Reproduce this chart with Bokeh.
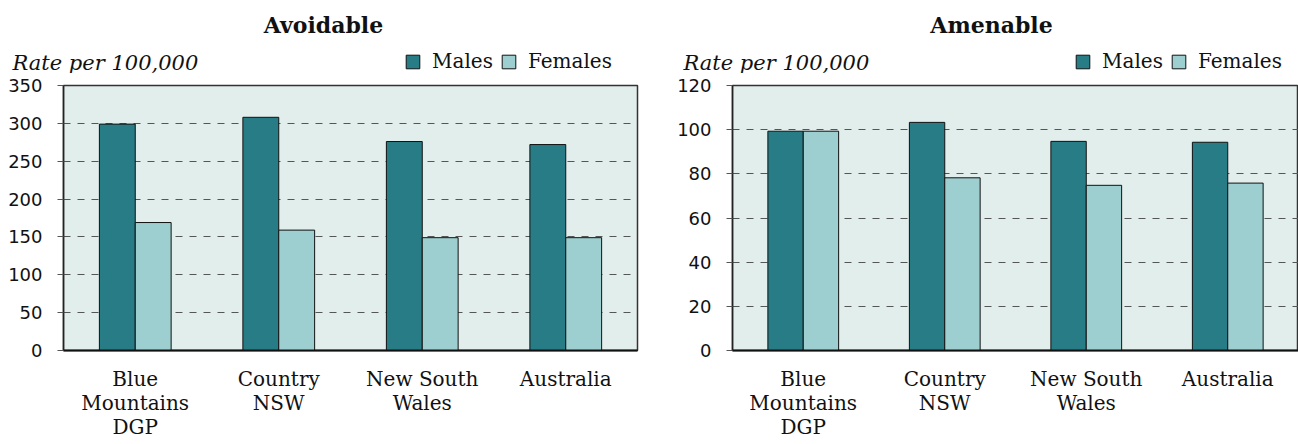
from bokeh.plotting import figure
from bokeh.models import (FactorRange, Range1d, Label, Legend, LegendItem,
                          ColumnDataSource, FixedTicker)
from bokeh.transform import dodge
from bokeh.layouts import row, column
from bokeh.embed import file_html
from bokeh.resources import INLINE

categories = ["Blue\nMountains\nDGP", "Country\nNSW", "New South\nWales", "Australia"]
avoidable_males = [299, 308, 276, 272]
avoidable_females = [169, 159, 149, 149]
amenable_males = [99.3, 103.3, 94.7, 94.3]
amenable_females = [99.3, 78.2, 74.8, 75.8]
avoidable_ticks = [0, 50, 100, 150, 200, 250, 300, 350]
amenable_ticks = [0, 20, 40, 60, 80, 100, 120]
titles = ["Avoidable", "Amenable"]
series_names = ["Males", "Females"]
y_label = "Rate per 100,000"

MALE = "#287c85"
FEMALE = "#9ecfd0"
BG = "#e2eeec"
LABEL_FONT = "DejaVu Serif"
TICK_FONT = "DejaVu Sans"
HEADER_H = 73


def make_header(title, width, title_x, rate_x, legend_x):
    h = figure(width=width, height=HEADER_H, x_range=Range1d(0, 1), y_range=Range1d(0, 1),
               x_axis_type=None, y_axis_type=None, output_backend="svg",
               toolbar_location=None, min_border=0, outline_line_color=None,
               background_fill_color="white", border_fill_color="white")
    proxy = ColumnDataSource(dict(x=[0], top=[0]))
    rm = h.vbar(x="x", top="top", width=0.1, source=proxy, fill_color=MALE,
                line_color="#111111", line_width=1, visible=False)
    rf = h.vbar(x="x", top="top", width=0.1, source=proxy, fill_color=FEMALE,
                line_color="#111111", line_width=1, visible=False)
    h.add_layout(Label(x=title_x, y=HEADER_H - 24, x_units="screen", y_units="screen",
                       text=title, text_align="center", text_baseline="middle",
                       text_font=LABEL_FONT, text_font_style="bold",
                       text_font_size="22px", text_color="#111111"))
    h.add_layout(Label(x=rate_x, y=HEADER_H - 62, x_units="screen", y_units="screen",
                       text=y_label, text_align="left", text_baseline="middle",
                       text_font=LABEL_FONT, text_font_style="italic",
                       text_font_size="21px", text_color="#111111"))
    leg = Legend(items=[LegendItem(label=series_names[0], renderers=[rm]),
                        LegendItem(label=series_names[1], renderers=[rf])],
                 orientation="horizontal", location=(legend_x, 0),
                 padding=0, margin=0, border_line_color=None,
                 background_fill_alpha=0, inactive_fill_alpha=0,
                 glyph_width=17, glyph_height=17,
                 label_standoff=11, spacing=7, label_height=20,
                 label_text_font=LABEL_FONT, label_text_font_size="20px",
                 label_text_color="#111111")
    h.add_layout(leg)
    return h


def make_chart(males, females, ticks, width, bl, br, bt):
    src = ColumnDataSource(dict(cat=categories, m=males, f=females))
    p = figure(x_range=FactorRange(factors=categories, range_padding=0),
               y_range=Range1d(0, ticks[-1]), width=width, height=444 - HEADER_H,
               output_backend="svg", toolbar_location=None,
               min_border_left=bl, min_border_right=br,
               min_border_top=bt, min_border_bottom=94,
               background_fill_color=BG, border_fill_color="white")
    p.vbar(x=dodge("cat", -0.125, range=p.x_range), top="m", width=0.25,
           source=src, fill_color=MALE, line_color="#111111", line_width=1)
    p.vbar(x=dodge("cat", 0.125, range=p.x_range), top="f", width=0.25,
           source=src, fill_color=FEMALE, line_color="#111111", line_width=1)

    p.xgrid.grid_line_color = None
    p.ygrid.grid_line_color = "#555555"
    p.ygrid.grid_line_dash = "7 7"
    p.ygrid.grid_line_width = 1
    p.outline_line_color = "#333333"
    p.outline_line_width = 1.5

    p.yaxis.ticker = FixedTicker(ticks=ticks)
    p.yaxis.minor_tick_line_color = None
    p.yaxis.major_tick_in = 0
    p.yaxis.major_tick_out = 6
    p.yaxis.major_tick_line_color = "#555555"
    p.yaxis.axis_line_color = "#222222"
    p.yaxis.axis_line_width = 1.5
    p.yaxis.major_label_text_font = TICK_FONT
    p.yaxis.major_label_text_font_size = "18px"
    p.yaxis.major_label_text_color = "#111111"
    p.yaxis.major_label_standoff = 15

    p.xaxis.major_tick_line_color = None
    p.xaxis.minor_tick_line_color = None
    p.xaxis.axis_line_color = "#111111"
    p.xaxis.axis_line_width = 2
    p.xaxis.major_label_text_font = LABEL_FONT
    p.xaxis.major_label_text_font_size = "20px"
    p.xaxis.major_label_text_color = "#111111"
    p.xaxis.major_label_text_line_height = 1.0
    p.xaxis.major_label_standoff = 10
    return p


left_h = make_header(titles[0], 658, 323, 12, 404)
right_h = make_header(titles[1], 640, 333, 25, 416)
left = make_chart(avoidable_males, avoidable_females, avoidable_ticks, 658, 63, 21, 10)
right = make_chart(amenable_males, amenable_females, amenable_ticks, 640, 74, 0, 12)

layout = column(row(left_h, right_h), row(left, right))
open("out.html", "w").write(file_html(layout, INLINE))
